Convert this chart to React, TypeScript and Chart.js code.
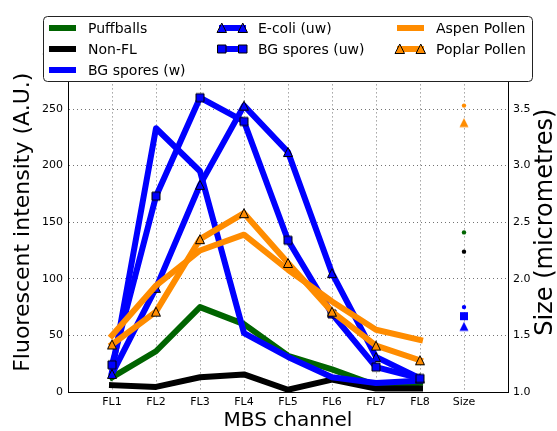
import { useEffect, useRef } from 'react';
import { Chart, registerables } from 'chart.js';

Chart.register(...registerables);

// Channel categories along the x axis (positions 1..9 on a 0..10 linear scale)
const channelLabels = ['FL1', 'FL2', 'FL3', 'FL4', 'FL5', 'FL6', 'FL7', 'FL8', 'Size'];
const intensityTicks = [0, 50, 100, 150, 200, 250, 300];
const sizeTicks = [1.0, 1.5, 2.0, 2.5, 3.0, 3.5, 4.0];

// Mean fluorescent intensity per MBS channel (A.U.)
const puffballs = [13, 36, 75, 60, 32, 20, 6, 8];
const nonFl = [6, 4.5, 13, 15.5, 2, 11, 3, 3];
const bgSporesW = [18, 233, 195, 52, 31, 13, 8, 10];
const eColiUw = [16, 92, 183, 253, 212, 105, 31, 12];
const bgSporesUw = [24, 173, 260, 239, 134, 69, 22, 12];
const aspenPollen = [50, 94, 125, 139, 108, 80, 55, 46];
const poplarPollen = [42, 71, 135, 158, 114, 71, 41, 28];

// Mean particle size (micrometres), plotted in the "Size" column
const particleSize = [2.41, 2.24, 1.75, 1.58, 1.67, 3.53, 3.38];

const seriesNames = [
  'Puffballs',
  'Non-FL',
  'BG spores (w)',
  'E-coli (uw)',
  'BG spores (uw)',
  'Aspen Pollen',
  'Poplar Pollen',
];
const seriesValues = [puffballs, nonFl, bgSporesW, eColiUw, bgSporesUw, aspenPollen, poplarPollen];

type Marker = 'none' | 'tri' | 'sq';
const seriesStyle: { color: string; marker: Marker }[] = [
  { color: '#006400', marker: 'none' },
  { color: '#000000', marker: 'none' },
  { color: '#0000ff', marker: 'none' },
  { color: '#0000ff', marker: 'tri' },
  { color: '#0000ff', marker: 'sq' },
  { color: '#ff8c00', marker: 'none' },
  { color: '#ff8c00', marker: 'tri' },
];
// legend grid placement: [column, row]
const legendSlots = [
  [0, 0], [0, 1], [0, 2], [1, 0], [1, 1], [2, 0], [2, 1],
];

const FONT = '"DejaVu Sans", "Liberation Sans", sans-serif';
const SIZE_AXIS_TITLE = 'Size (micrometres)';

function markerPath(g: CanvasRenderingContext2D, shape: Marker, cx: number, cy: number) {
  g.beginPath();
  if (shape === 'tri') {
    g.moveTo(cx, cy - 4.5);
    g.lineTo(cx + 4.5, cy + 4.5);
    g.lineTo(cx - 4.5, cy + 4.5);
    g.closePath();
  } else {
    g.rect(cx - 4, cy - 4, 8, 8);
  }
}

function markerImage(color: string, shape: Marker, edge: boolean) {
  const cv = document.createElement('canvas');
  cv.width = 12;
  cv.height = 12;
  const g = cv.getContext('2d')!;
  markerPath(g, shape, 6, 6);
  g.fillStyle = color;
  g.fill();
  if (edge) {
    g.lineWidth = 1;
    g.strokeStyle = '#000';
    g.stroke();
  }
  return cv;
}

// Right-hand axis title, reading bottom-to-top like the left one
const sizeTitle = {
  id: 'sizeTitle',
  afterDraw(chart: Chart) {
    const ctx = chart.ctx;
    const area = chart.chartArea;
    ctx.save();
    ctx.translate(chart.width - 11, (area.top + area.bottom) / 2);
    ctx.rotate(-Math.PI / 2);
    ctx.font = `24px ${FONT}`;
    ctx.fillStyle = '#000';
    ctx.textAlign = 'center';
    ctx.textBaseline = 'middle';
    ctx.fillText(SIZE_AXIS_TITLE, 0, 0);
    ctx.restore();
  },
};

// Framed three-column legend laid over the top of the plot
const boxLegend = {
  id: 'boxLegend',
  afterDraw(chart: Chart) {
    const ctx = chart.ctx;
    const area = chart.chartArea;
    const x0 = area.left - 24.5;
    const y0 = 16.5;
    const w = 489;
    const h = 65;
    const r = 4;
    ctx.save();
    ctx.beginPath();
    ctx.moveTo(x0 + r, y0);
    ctx.lineTo(x0 + w - r, y0);
    ctx.arcTo(x0 + w, y0, x0 + w, y0 + r, r);
    ctx.lineTo(x0 + w, y0 + h - r);
    ctx.arcTo(x0 + w, y0 + h, x0 + w - r, y0 + h, r);
    ctx.lineTo(x0 + r, y0 + h);
    ctx.arcTo(x0, y0 + h, x0, y0 + h - r, r);
    ctx.lineTo(x0, y0 + r);
    ctx.arcTo(x0, y0, x0 + r, y0, r);
    ctx.closePath();
    ctx.fillStyle = '#ffffff';
    ctx.fill();
    ctx.lineWidth = 1;
    ctx.strokeStyle = '#222';
    ctx.stroke();

    const colX = [x0 + 8.5, x0 + 178.5, x0 + 356.5];
    const rowY = [28, 49, 70];
    ctx.font = `14px ${FONT}`;
    ctx.textBaseline = 'middle';
    ctx.textAlign = 'left';
    seriesNames.forEach((name, i) => {
      const [c, rIdx] = legendSlots[i];
      const lx = colX[c];
      const ly = rowY[rIdx];
      const st = seriesStyle[i];
      ctx.beginPath();
      ctx.moveTo(lx, ly);
      ctx.lineTo(lx + 21, ly);
      ctx.lineWidth = 6;
      ctx.lineCap = 'square';
      ctx.strokeStyle = st.color;
      ctx.stroke();
      if (st.marker !== 'none') {
        [lx, lx + 21].forEach((mx) => {
          markerPath(ctx, st.marker, mx, ly);
          ctx.fillStyle = st.color;
          ctx.fill();
          ctx.lineWidth = 1;
          ctx.strokeStyle = '#000';
          ctx.stroke();
        });
      }
      ctx.fillStyle = '#000';
      ctx.fillText(name, lx + 36, ly + 1);
    });
    ctx.restore();
  },
};

export default function App() {
  const canvasRef = useRef<HTMLCanvasElement | null>(null);

  useEffect(() => {
    const canvas = canvasRef.current;
    if (!canvas) return;

    const lineSets = seriesValues.map((vals, i) => {
      const st = seriesStyle[i];
      const img = st.marker === 'none' ? undefined : markerImage(st.color, st.marker, true);
      return {
        label: seriesNames[i],
        data: vals.map((v, k) => ({ x: k + 1, y: v })),
        xAxisID: 'x',
        yAxisID: 'y',
        borderColor: st.color,
        backgroundColor: st.color,
        borderWidth: 6,
        borderJoinStyle: 'round' as const,
        borderCapStyle: 'square' as const,
        tension: 0,
        fill: false,
        clip: 0,
        pointStyle: img ?? 'circle',
        pointRadius: img ? 5 : 0,
        pointHoverRadius: img ? 5 : 0,
        order: 40 - i * 2,
      };
    });

    const sizeSets = particleSize.map((v, i) => {
      const st = seriesStyle[i];
      const img = st.marker === 'none' ? undefined : markerImage(st.color, st.marker, false);
      return {
        label: seriesNames[i] + ' size',
        data: [{ x: channelLabels.length, y: v }],
        xAxisID: 'x',
        yAxisID: 'y1',
        showLine: false,
        borderColor: st.color,
        backgroundColor: st.color,
        borderWidth: 0,
        pointStyle: img ?? 'circle',
        pointRadius: img ? 5 : 2.2,
        pointBorderWidth: 0,
        order: 10 - i,
      };
    });

    const tickFont = { family: FONT, size: 11 };
    const gridColor = 'rgba(0,0,0,0.55)';

    const chart = new Chart(canvas, {
      type: 'line',
      data: { datasets: [...lineSets, ...sizeSets] as any },
      plugins: [boxLegend, sizeTitle],
      options: {
        responsive: false,
        animation: false,
        events: [],
        layout: { padding: { top: 52.4, left: 0, right: 0, bottom: 0 } },
        plugins: { legend: { display: false }, tooltip: { enabled: false } },
        scales: {
          x: {
            type: 'linear',
            min: 0,
            max: channelLabels.length + 1,
            afterBuildTicks: (s: any) => {
              s.ticks = channelLabels.map((_, k) => ({ value: k + 1 }));
            },
            afterFit: (s: any) => {
              s.height = 39;
            },
            ticks: {
              autoSkip: false,
              maxRotation: 0,
              padding: 4,
              color: '#000',
              font: tickFont,
              callback: (v: any) => channelLabels[Number(v) - 1] ?? '',
            },
            grid: { color: gridColor, lineWidth: 1, drawTicks: false },
            border: { display: true, color: '#000', width: 1, dash: [1, 3] },
            title: {
              display: true,
              text: 'MBS channel',
              color: '#000',
              font: { family: FONT, size: 20, lineHeight: 1 },
              padding: { top: 0, bottom: 0 },
            },
          },
          y: {
            type: 'linear',
            position: 'left',
            min: 0,
            max: 300,
            afterBuildTicks: (s: any) => {
              s.ticks = intensityTicks.map((v) => ({ value: v }));
            },
            afterFit: (s: any) => {
              s.width = 68;
            },
            ticks: { padding: 5, color: '#000', font: tickFont },
            grid: {
              color: (c: any) => (c.tick && c.tick.value === 0 ? 'rgba(0,0,0,0)' : gridColor),
              lineWidth: 1,
              drawTicks: false,
            },
            border: { display: true, color: '#000', width: 1, dash: [1, 3] },
            title: {
              display: true,
              text: 'Fluorescent intensity (A.U.)',
              color: '#000',
              font: { family: FONT, size: 22, lineHeight: 1 },
              padding: { top: 12, bottom: 0 },
            },
          },
          y1: {
            type: 'linear',
            position: 'right',
            min: 1,
            max: 4,
            afterBuildTicks: (s: any) => {
              s.ticks = sizeTicks.map((v) => ({ value: v }));
            },
            afterFit: (s: any) => {
              s.width = 49;
            },
            ticks: {
              padding: 5,
              color: '#000',
              font: tickFont,
              callback: (v: any) => Number(v).toFixed(1),
            },
            grid: { display: false, drawTicks: false },
            border: { display: true, color: '#000', width: 1 },
            title: { display: false },
          },
        },
      } as any,
    });

    return () => chart.destroy();
  }, []);

  return (
    <div style={{ position: 'fixed', left: 0, top: 0, width: 557, height: 431, background: '#fff' }}>
      <canvas ref={canvasRef} width={557} height={431} style={{ display: 'block' }} />
    </div>
  );
}
